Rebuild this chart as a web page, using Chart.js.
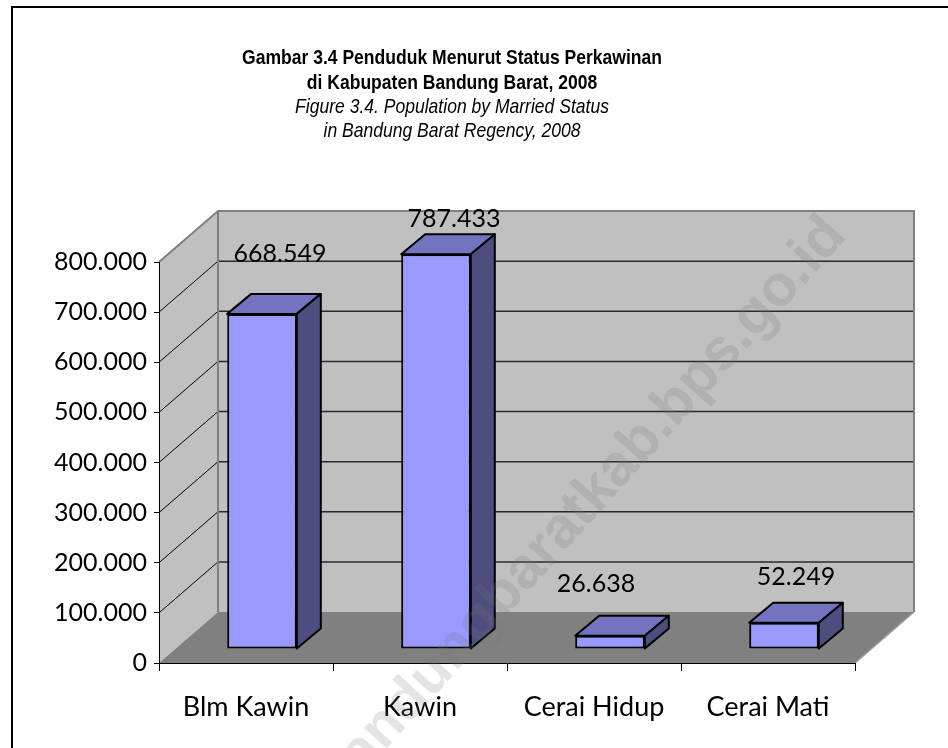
<!DOCTYPE html>
<html>
<head>
<meta charset="utf-8">
<script src="https://cdn.jsdelivr.net/npm/chart.js@4.4.0/dist/chart.umd.min.js"></script>
<style>
  html, body { margin: 0; padding: 0; background: #fff; }
</style>
</head>
<body>
<canvas id="statusChart" width="948" height="748"></canvas>
<script>
// data
const categories = ['Blm Kawin', 'Kawin', 'Cerai Hidup', 'Cerai Mati'];
const population = [668549, 787433, 26638, 52249];
const yTicks = [0, 100000, 200000, 300000, 400000, 500000, 600000, 700000, 800000];
const titleLines = ['Gambar 3.4 Penduduk Menurut Status Perkawinan', 'di Kabupaten Bandung Barat, 2008'];
const subtitleLines = ['Figure 3.4. Population by Married Status', 'in Bandung Barat Regency, 2008'];
const watermark = 'bandungbaratkab.bps.go.id';

// 3d look (excel style)
const WALL = { x: 59, y: -51 };      // back wall offset from the front plane
const BAR_SHIFT = { x: 16, y: -14 }; // bars sit a bit behind the front edge
const BAR_DEPTH = { x: 24, y: -20 };
// excel moved some value labels around, nudge them the same way
const labelNudge = [[6, -12], [6, 13], [-26, -4], [0, 2]];
const numFont = { family: 'Lato, "Open Sans", sans-serif', size: 25 };
const catFont = { family: 'Lato, "Open Sans", sans-serif', size: 27 };
const titleFamily = '"Liberation Sans", Arial, sans-serif';

// 800000 -> "800.000"
function fmt(v) {
    return String(Math.round(v)).replace(/\B(?=(\d{3})+(?!\d))/g, '.');
}

function poly(ctx, pts) {
    ctx.beginPath();
    ctx.moveTo(pts[0][0], pts[0][1]);
    for (let i = 1; i < pts.length; i++) ctx.lineTo(pts[i][0], pts[i][1]);
    ctx.closePath();
}

// narrow title text (no Arial Narrow here, so squeeze Liberation Sans)
function narrowText(ctx, text, x, y, font) {
    ctx.save();
    ctx.translate(x, y);
    ctx.scale(0.835, 1);
    ctx.font = font;
    ctx.fillText(text, 0, 0);
    ctx.restore();
}

const walls3d = {
    id: 'walls3d',
    beforeDraw(chart) {
        const { ctx, chartArea: a, scales: { y } } = chart;
        const dx = WALL.x, dy = WALL.y;
        ctx.save();

        // outer frame (only top and left are visible)
        ctx.fillStyle = '#000';
        ctx.fillRect(11, 6, chart.width - 11, 2);
        ctx.fillRect(11, 6, 2, chart.height - 6);

        // left wall
        ctx.fillStyle = '#c0c0c0';
        poly(ctx, [[a.left, a.top], [a.left + dx, a.top + dy], [a.left + dx, a.bottom + dy], [a.left, a.bottom]]);
        ctx.fill();
        // back wall
        ctx.fillRect(a.left + dx, a.top + dy, a.right - a.left, a.bottom - a.top);
        // floor
        ctx.fillStyle = '#808080';
        poly(ctx, [[a.left, a.bottom], [a.left + dx, a.bottom + dy], [a.right + dx, a.bottom + dy], [a.right, a.bottom]]);
        ctx.fill();

        // grid lines: flat on the back wall, slanted on the left wall
        y.ticks.forEach(t => {
            if (t.value === y.min || t.value === y.max) return;
            const py = y.getPixelForValue(t.value);
            ctx.strokeStyle = '#2a2a2a';
            ctx.lineWidth = 1.5;
            ctx.beginPath();
            ctx.moveTo(a.left + dx, py + dy);
            ctx.lineTo(a.right + dx, py + dy);
            ctx.stroke();
            ctx.strokeStyle = '#000';
            ctx.lineWidth = 1;
            ctx.beginPath();
            ctx.moveTo(a.left, py);
            ctx.lineTo(a.left + dx, py + dy);
            ctx.stroke();
        });

        // wall edges
        ctx.strokeStyle = '#808080';
        ctx.lineWidth = 2;
        ctx.beginPath();
        ctx.moveTo(a.left, a.top);
        ctx.lineTo(a.left + dx, a.top + dy);
        ctx.lineTo(a.right + dx, a.top + dy);
        ctx.lineTo(a.right + dx, a.bottom + dy);
        ctx.moveTo(a.left + dx, a.top + dy);
        ctx.lineTo(a.left + dx, a.bottom + dy);
        ctx.stroke();
        ctx.strokeStyle = '#9a9a9a';
        ctx.lineWidth = 1.5;
        ctx.beginPath();
        ctx.moveTo(a.right, a.bottom);
        ctx.lineTo(a.right + dx, a.bottom + dy);
        ctx.stroke();
        ctx.restore();
    },
    beforeDatasetsDraw(chart) {
        chart.ctx.save();
        chart.ctx.translate(BAR_SHIFT.x, BAR_SHIFT.y);
    },
    afterDatasetsDraw(chart) {
        const ctx = chart.ctx;
        const meta = chart.getDatasetMeta(0);
        meta.data.forEach(bar => {
            const { x, y, base, width } = bar.getProps(['x', 'y', 'base', 'width'], true);
            const L = x - width / 2, R = x + width / 2;
            const bx = BAR_DEPTH.x, by = BAR_DEPTH.y;
            ctx.lineWidth = 2;
            ctx.lineJoin = 'round';
            ctx.strokeStyle = '#000';
            // top
            ctx.fillStyle = '#7373c0';
            poly(ctx, [[L, y], [L + bx, y + by], [R + bx, y + by], [R, y]]);
            ctx.fill();
            ctx.stroke();
            // side
            ctx.fillStyle = '#4d4d80';
            poly(ctx, [[R, y], [R + bx, y + by], [R + bx, base + by], [R, base]]);
            ctx.fill();
            ctx.stroke();
        });
        // value labels above the boxes
        ctx.fillStyle = '#000';
        ctx.font = numFont.size + 'px ' + numFont.family;
        ctx.textAlign = 'center';
        ctx.textBaseline = 'middle';
        meta.data.forEach((bar, i) => {
            const { x, y } = bar.getProps(['x', 'y'], true);
            const n = labelNudge[i];
            ctx.fillText(fmt(population[i]), x + BAR_DEPTH.x / 2 + n[0], y - 48 + n[1]);
        });
        ctx.restore();
    },
    afterDraw(chart) {
        const ctx = chart.ctx;
        const cx = (chart.chartArea.left + chart.chartArea.right) / 2 - 55;

        // titles
        ctx.save();
        ctx.fillStyle = '#000';
        ctx.textAlign = 'center';
        ctx.textBaseline = 'middle';
        titleLines.forEach((t, i) => narrowText(ctx, t, cx, 58 + i * 25, 'bold 21px ' + titleFamily));
        subtitleLines.forEach((t, i) => narrowText(ctx, t, cx, 107 + i * 24, 'italic 21px ' + titleFamily));
        ctx.restore();

        // faint site watermark across the picture
        ctx.save();
        ctx.translate(836, 226);
        ctx.rotate(-48 * Math.PI / 180);
        ctx.font = 'bold 58px "Liberation Sans", Arial, sans-serif';
        ctx.fillStyle = 'rgba(120, 120, 120, 0.2)';
        ctx.textAlign = 'right';
        ctx.textBaseline = 'middle';
        ctx.fillText(watermark, 0, 0);
        ctx.restore();
    }
};

const ctx = document.getElementById('statusChart').getContext('2d');
new Chart(ctx, {
    type: 'bar',
    data: {
        labels: categories,
        datasets: [{
            label: 'Penduduk',
            data: population,
            backgroundColor: '#9999ff',
            borderColor: '#000',
            borderWidth: 2,
            borderSkipped: false,
            categoryPercentage: 1,
            barPercentage: 0.4
        }]
    },
    options: {
        responsive: false,
        animation: false,
        layout: { padding: { left: 49, right: 93, top: 262, bottom: 0 } },
        plugins: {
            legend: { display: false },
            tooltip: { enabled: false },
            title: { display: false }
        },
        scales: {
            x: {
                grid: { drawOnChartArea: false, offset: true, tickLength: 8, color: '#000' },
                border: { display: true, color: '#000', width: 1 },
                ticks: { color: '#000', font: catFont, padding: 20, maxRotation: 0 },
                afterFit(scale) { scale.height = 85; }
            },
            y: {
                min: yTicks[0],
                max: yTicks[yTicks.length - 1],
                grid: { drawOnChartArea: false, tickLength: 5, color: '#000' },
                border: { display: true, color: '#000', width: 1 },
                ticks: {
                    stepSize: yTicks[1] - yTicks[0],
                    color: '#000',
                    font: numFont,
                    padding: 7,
                    callback: v => fmt(v)
                },
                afterFit(scale) { scale.width = 110; }
            }
        }
    },
    plugins: [walls3d]
});
</script>
</body>
</html>
